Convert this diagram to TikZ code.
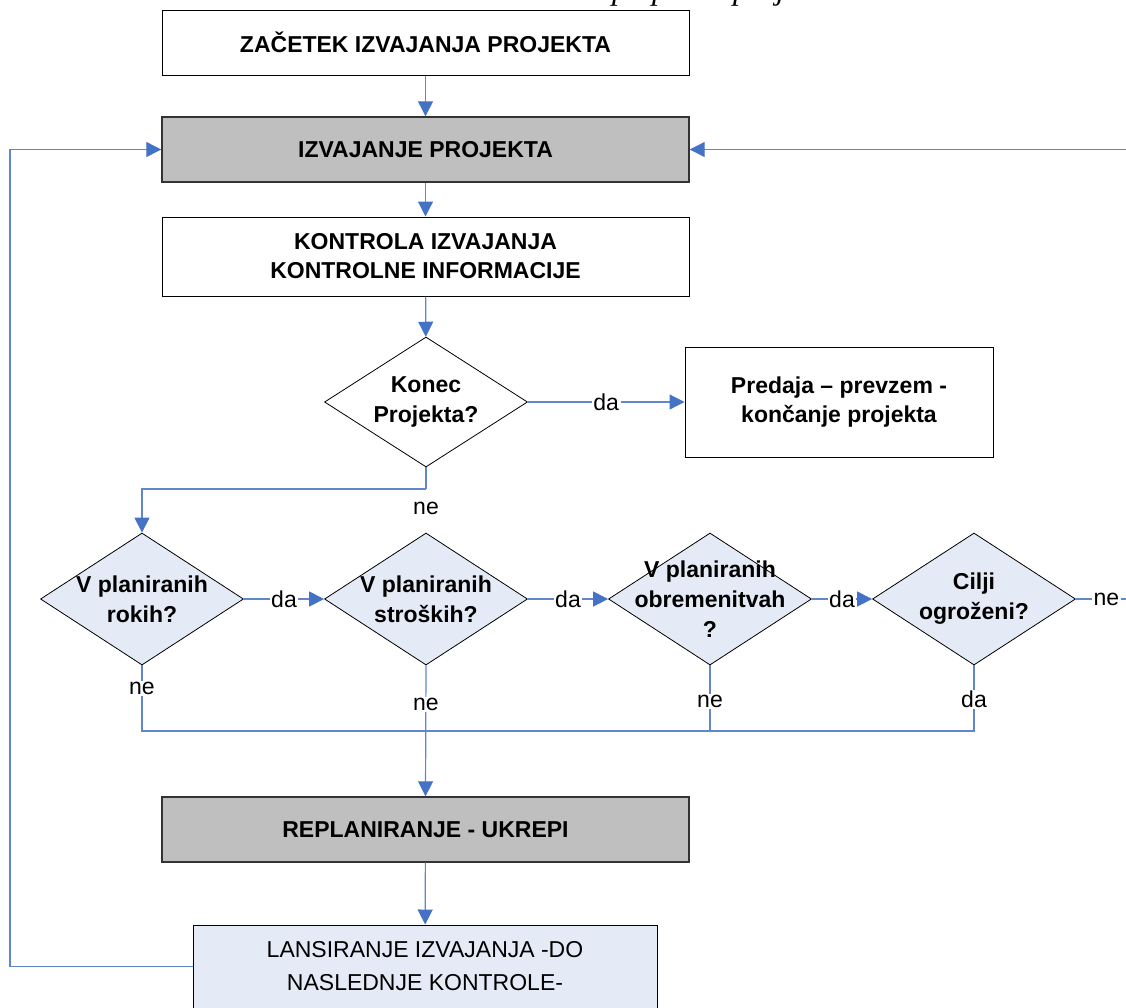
\documentclass[tikz,border=0pt]{standalone}
\usepackage{fontspec}
\setmainfont{Liberation Sans}
\newfontfamily\captionserif{Liberation Serif}
\usetikzlibrary{shapes.geometric,arrows.meta}

\definecolor{linkblue}{RGB}{96,134,204}
\definecolor{tipblue}{RGB}{68,114,196}
\definecolor{boxgray}{RGB}{191,191,191}
\definecolor{paleblue}{RGB}{229,235,246}

\tikzset{
  txt/.style={font=\fontsize{23}{29}\selectfont\bfseries, align=center},
  plainbox/.style={draw=black, line width=1pt, fill=white, rectangle,
    minimum width=527pt, minimum height=65pt, inner sep=0pt, txt},
  graybox/.style={plainbox, draw=black!80, line width=1.4pt, fill=boxgray},
  decision/.style={diamond, draw=black, line width=0.8pt, fill=paleblue,
    minimum width=203pt, minimum height=132pt, inner sep=0pt},
  dtext/.style={font=\fontsize{23}{30}\selectfont\bfseries, align=center, inner sep=0pt},
  link/.style={draw=linkblue, line width=1.2pt},
  arr/.style={link, -{Triangle[length=15pt,width=15pt,color=tipblue]}},
  lbl/.style={font=\fontsize{23}{29}\selectfont, fill=white, inner sep=1.5pt},
}

\begin{document}
\begin{tikzpicture}[x=1pt, y=-1pt]
\useasboundingbox (0,0) rectangle (1126,1007);

% caption line above the chart, only its descenders reach into the frame
\node[anchor=base west, inner sep=0pt, font=\captionserif\itshape\fontsize{32}{32}\selectfont]
  (cap) at (612,-1) {po planu projekta};

% main column
\node[plainbox] (start) at (425.5,42.5) {ZAČETEK IZVAJANJA PROJEKTA};
\node[graybox] (exec) at (425.5,149.5) {IZVAJANJE PROJEKTA};
\node[plainbox, minimum height=79pt] (ctrl) at (425.5,256.5)
  {KONTROLA IZVAJANJA\\KONTROLNE INFORMACIJE};

% end-of-project decision
\node[decision, fill=white, minimum height=130pt] (dend) at (426,402) {};
\node[dtext] (dendt) at (dend.center) {Konec\\Projekta?};
\node[plainbox, minimum width=308pt, minimum height=110pt] (handover) at (839,402)
  {Predaja – prevzem -\\končanje projekta};

% row of checks
\node[decision] (dtime) at (142,599) {};
\node[dtext] (dtimet) at (dtime.center) {V planiranih\\rokih?};
\node[decision] (dcost) at (426,599) {};
\node[dtext] (dcostt) at (dcost.center) {V planiranih\\stroških?};
\node[decision] (dload) at (710,599) {};
\node[dtext] (dloadt) at (dload.center) {V planiranih\\obremenitvah\\?};
\node[decision] (dgoal) at (974,599) {};
\node[dtext] (dgoalt) at (dgoal.center) {Cilji\\ogroženi?};

% corrective actions
\node[graybox] (replan) at (425.5,829.5) {REPLANIRANJE - UKREPI};
\node[plainbox, fill=paleblue, minimum width=464pt, minimum height=83pt,
      font=\fontsize{23}{33}\selectfont] (relaunch) at (425,966.5)
  {LANSIRANJE IZVAJANJA -DO\\NASLEDNJE KONTROLE-};

% helper coordinates for the routed lines
\coordinate (bus) at (0,731);
\coordinate (bend) at (0,489);
\coordinate (rturn) at (1145,599);
\coordinate (lturn) at (10,966.5);

% straight flow
\draw[arr] (start) -- (exec);
\draw[arr] (exec) -- (ctrl);
\draw[arr] (ctrl) -- (dend);
\draw[arr] (dend.east) -- node[lbl] {da} (handover.west);
\draw[link] (dend.south) -- (dend.south |- bend);
\draw[arr] (dend.south |- bend) -| (dtime.north);
\node[font=\fontsize{23}{29}\selectfont, inner sep=0pt] (neend) at (426,508) {ne};

\draw[arr] (dtime.east) -- node[lbl] {da} (dcost.west);
\draw[arr] (dcost.east) -- node[lbl] {da} (dload.west);
\draw[arr] (dload.east) -- node[lbl] {da} (dgoal.west);
\draw[arr] (dgoal.east) -- node[lbl, pos=0.44] {ne} (rturn) |- (exec.east);

% collecting line under the checks
\draw[link] (dtime.south) -- node[lbl, pos=0.35] {ne} (dtime.south |- bus)
  -- (dgoal.south |- bus) -- node[lbl, pos=0.48] {da} (dgoal.south);
\draw[link] (dload.south) -- node[lbl, pos=0.55] {ne} (dload.south |- bus);
\draw[arr] (dcost.south) -- node[lbl, pos=0.30] {ne} (replan.north);

\draw[arr] (replan) -- (relaunch);
\draw[arr] (relaunch.west) -- (lturn) |- (exec.west);
\end{tikzpicture}
\end{document}
